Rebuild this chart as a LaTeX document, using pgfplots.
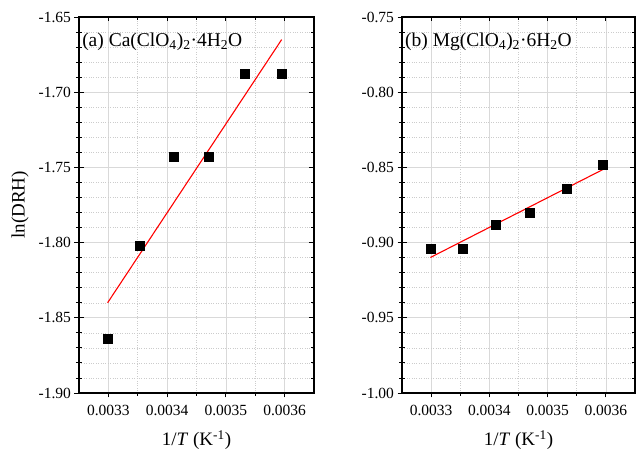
\documentclass[border=0pt]{standalone}
\usepackage{fontspec}
\setmainfont{Liberation Serif}
\usepackage{pgfplots}
\usepackage{pgfplotstable}
\pgfplotsset{compat=1.18}

% ln(DRH) against 1/T for the two perchlorate hydrates
\pgfplotstableread{
invT lnDRH
0.0032987 -1.864
0.0033540 -1.802
0.0034110 -1.743
0.0034700 -1.743
0.0035320 -1.688
0.0035950 -1.688
}\CaData
\pgfplotstableread{
invT lnDRH
0.0032987 -1.840
0.0035950 -1.665
}\CaFit
\pgfplotstableread{
invT lnDRH
0.0032987 -0.904
0.0033540 -0.904
0.0034110 -0.888
0.0034700 -0.880
0.0035320 -0.864
0.0035950 -0.848
}\MgData
\pgfplotstableread{
invT lnDRH
0.0032987 -0.9099
0.0035950 -0.8514
}\MgFit

\pgfplotsset{
  base/.style={
    scale only axis, height=376pt,
    xmin=0.00325, xmax=0.00365,
    scaled x ticks=false, scaled y ticks=false,
    xtick={0.0033,0.0034,0.0035,0.0036},
    minor x tick num=1, minor y tick num=4,
    major tick length=4.5pt, minor tick length=3pt,
    every tick/.style={black, line width=0.9pt},
    axis line style={black, line width=1.1pt},
  },
  panel/.style={
    base,
    grid=both,
    major grid style={gray!30, line width=0.6pt},
    minor grid style={gray!40, dotted, line width=0.5pt},
    tick align=outside, xtick pos=left, ytick pos=left,
    xticklabels={0.0033,0.0034,0.0035,0.0036},
    tick label style={font=\fontsize{15.5}{18}\selectfont},
    xticklabel style={yshift=-4pt},
    /pgf/number format/assume math mode=true,
    xlabel={1/\textit{T} (K\textsuperscript{-1})},
    every axis x label/.style={at={(axis description cs:0.5,-0.125)}, anchor=center,
      font=\fontsize{19}{22}\selectfont},
  },
  frame/.style={
    base,
    tick align=inside, xtick pos=right, ytick pos=both,
    xticklabels={}, yticklabels={},
  },
  pts/.style={only marks, mark=square*, mark size=4.5pt, black},
  fit/.style={no marks, red, line width=1.1pt},
}

\begin{document}
\begin{tikzpicture}
% panel (a)
\begin{axis}[panel, at={(0pt,0pt)}, anchor=south west, width=235pt,
  ymin=-1.90, ymax=-1.65,
  ytick={-1.90,-1.85,-1.80,-1.75,-1.70,-1.65},
  yticklabels={-1.90,-1.85,-1.80,-1.75,-1.70,-1.65},
  ylabel={ln(DRH)},
  every axis y label/.style={at={(axis description cs:-0.251,0.5)}, rotate=90, anchor=center,
    font=\fontsize{19}{22}\selectfont},
]
\addplot[pts] table[x=invT, y=lnDRH] {\CaData};
\addplot[fit] table[x=invT, y=lnDRH] {\CaFit};
\node[anchor=base west, font=\fontsize{19.5}{22}\selectfont, inner sep=0pt]
  at (axis description cs:0.013,0.921)
  {(a) Ca(ClO\textsubscript{4})\textsubscript{2}·4H\textsubscript{2}O};
\end{axis}
\begin{axis}[frame, at={(0pt,0pt)}, anchor=south west, width=235pt,
  ymin=-1.90, ymax=-1.65, ytick={-1.90,-1.85,-1.80,-1.75,-1.70,-1.65}]
\end{axis}

% panel (b)
\begin{axis}[panel, at={(323pt,0pt)}, anchor=south west, width=233pt,
  ymin=-1.00, ymax=-0.75,
  ytick={-1.00,-0.95,-0.90,-0.85,-0.80,-0.75},
  yticklabels={-1.00,-0.95,-0.90,-0.85,-0.80,-0.75},
]
\addplot[pts] table[x=invT, y=lnDRH] {\MgData};
\addplot[fit] table[x=invT, y=lnDRH] {\MgFit};
\node[anchor=base west, font=\fontsize{19.5}{22}\selectfont, inner sep=0pt]
  at (axis description cs:0.013,0.921)
  {(b) Mg(ClO\textsubscript{4})\textsubscript{2}·6H\textsubscript{2}O};
\end{axis}
\begin{axis}[frame, at={(323pt,0pt)}, anchor=south west, width=233pt,
  ymin=-1.00, ymax=-0.75, ytick={-1.00,-0.95,-0.90,-0.85,-0.80,-0.75}]
\end{axis}

\pgfresetboundingbox
\useasboundingbox (-79pt,-59pt) rectangle (559pt,393pt);
\end{tikzpicture}
\end{document}
